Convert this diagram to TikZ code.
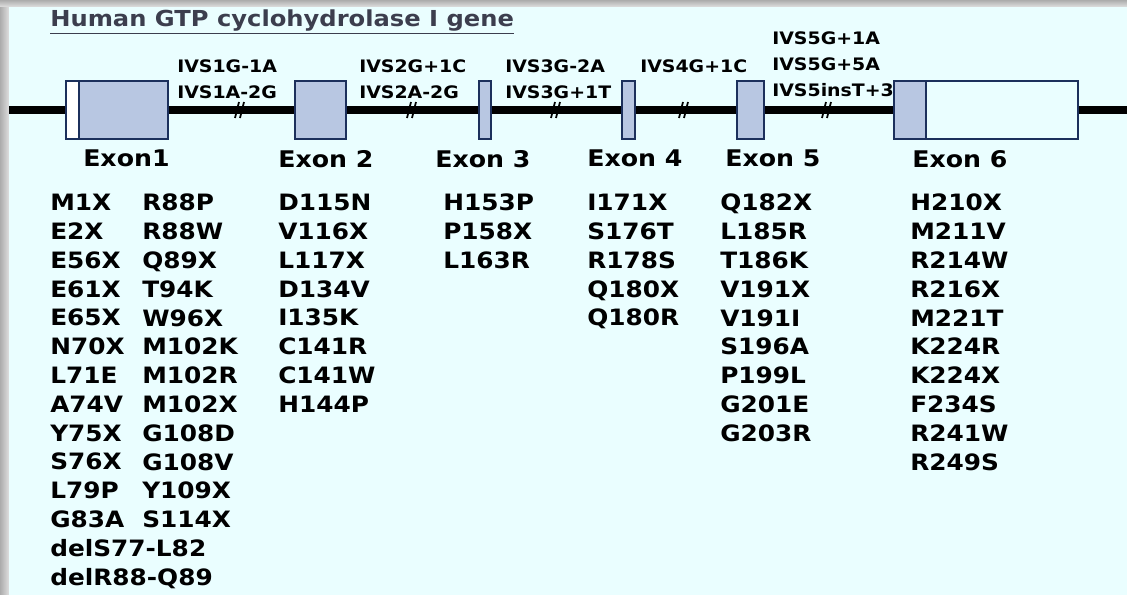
\documentclass[tikz,border=0pt]{standalone}
\usepackage{fontspec}
\setmainfont[FakeStretch=1.1]{DejaVu Sans}
\usepackage{tikz}
\usetikzlibrary{positioning}

\definecolor{panel}{RGB}{234,254,255}
\definecolor{exonline}{RGB}{28,48,92}
\definecolor{exonfill}{RGB}{184,199,226}
\definecolor{titlegray}{RGB}{60,62,78}

\begin{document}
\begin{tikzpicture}[x=0.75pt, y=-0.75pt,
  gene/.style={line width=5.5pt, black},
  exon/.style={draw=exonline, fill=exonfill, line width=1.6pt, minimum height=43.5pt, inner sep=0pt},
  utr/.style={exon, fill=white},
  brk/.style={line width=1.3pt, black},
  ivs/.style={anchor=north west, inner sep=0pt, align=left, font=\fontsize{12.9}{19.5}\selectfont\bfseries},
  exlabel/.style={anchor=north west, inner sep=0pt, font=\fontsize{17.2}{20}\selectfont\bfseries},
  mutlist/.style={anchor=north west, inner sep=0pt, align=left, font=\fontsize{16.9}{21.6}\selectfont\bfseries}]

  % Page, shadow and panel
  \useasboundingbox (0,0) rectangle (1127,595);
  \fill[gray!45] (0,0) rectangle (1127,595);
  \shade[left color=gray!65, right color=gray!25] (0,0) rectangle (9,595);
  \shade[top color=gray!65, bottom color=gray!25] (0,0) rectangle (1127,7);
  \fill[panel] (9,7) rectangle (1127,595);

  % Title
  \node[anchor=north west, inner sep=0pt, text=titlegray, font=\fontsize{16.5}{20}\selectfont\bfseries]
    (title) at (50,10) {\underline{Human GTP cyclohydrolase I gene}};

  % Exons (UTR parts in white)
  \node[utr,  minimum width=9.75pt] (ex1u) at (72.5,110) {};
  \node[exon, minimum width=66.75pt] (ex1) at (123.5,110) {};
  \node[exon, minimum width=38.25pt] (ex2) at (320.5,110) {};
  \node[exon, minimum width=9pt] (ex3) at (485,110) {};
  \node[exon, minimum width=9.75pt] (ex4) at (628.5,110) {};
  \node[exon, minimum width=20.25pt] (ex5) at (750.5,110) {};
  \node[exon, minimum width=24pt] (ex6) at (910,110) {};
  \node[utr,  minimum width=114pt, fill=panel] (ex6u) at (1002,110) {};

  % Introns
  \coordinate (lend) at (9,110);
  \coordinate (rend) at (1127,110);
  \draw[gene] (lend) -- (ex1u);
  \draw[gene] (ex1) -- (ex2);
  \draw[gene] (ex2) -- (ex3);
  \draw[gene] (ex3) -- (ex4);
  \draw[gene] (ex4) -- (ex5);
  \draw[gene] (ex5) -- (ex6);
  \draw[gene] (ex6u) -- (rend);

  % Break marks
  \draw[brk] (235,118) -- (239,102) (240,118) -- (244,102);
  \draw[brk] (407,118) -- (411,102) (412,118) -- (416,102);
  \draw[brk] (551,118) -- (555,102) (556,118) -- (560,102);
  \draw[brk] (679,118) -- (683,102) (684,118) -- (688,102);
  \draw[brk] (822,118) -- (826,102) (827,118) -- (831,102);

  % Splice site mutations
  \node[ivs] (ivs1) at (177,59) {IVS1G-1A\\IVS1A-2G};
  \node[ivs] (ivs2) at (359,59) {IVS2G+1C\\IVS2A-2G};
  \node[ivs] (ivs3) at (505,59) {IVS3G-2A\\IVS3G+1T};
  \node[ivs] (ivs4) at (640,59) {IVS4G+1C};
  \node[ivs] (ivs5) at (772,31) {IVS5G+1A\\IVS5G+5A\\IVS5insT+3};

  % Exon labels
  \node[exlabel] (lab1) at (83,150) {Exon1};
  \node[exlabel] (lab2) at (278,150) {Exon 2};
  \node[exlabel] (lab3) at (435,150) {Exon 3};
  \node[exlabel] (lab4) at (587,150) {Exon 4};
  \node[exlabel] (lab5) at (725,150) {Exon 5};
  \node[exlabel] (lab6) at (912,150) {Exon 6};

  % Mutations per exon
  \node[mutlist] (mut1a) at (50,194) {M1X\\E2X\\E56X\\E61X\\E65X\\N70X\\L71E\\A74V\\Y75X\\S76X\\L79P\\G83A\\delS77-L82\\delR88-Q89};
  \node[mutlist] (mut1b) at (142,194) {R88P\\R88W\\Q89X\\T94K\\W96X\\M102K\\M102R\\M102X\\G108D\\G108V\\Y109X\\S114X};
  \node[mutlist] (mut2) at (278,194) {D115N\\V116X\\L117X\\D134V\\I135K\\C141R\\C141W\\H144P};
  \node[mutlist] (mut3) at (443,194) {H153P\\P158X\\L163R};
  \node[mutlist] (mut4) at (587,194) {I171X\\S176T\\R178S\\Q180X\\Q180R};
  \node[mutlist] (mut5) at (720,194) {Q182X\\L185R\\T186K\\V191X\\V191I\\S196A\\P199L\\G201E\\G203R};
  \node[mutlist] (mut6) at (910,194) {H210X\\M211V\\R214W\\R216X\\M221T\\K224R\\K224X\\F234S\\R241W\\R249S};

\end{tikzpicture}
\end{document}
